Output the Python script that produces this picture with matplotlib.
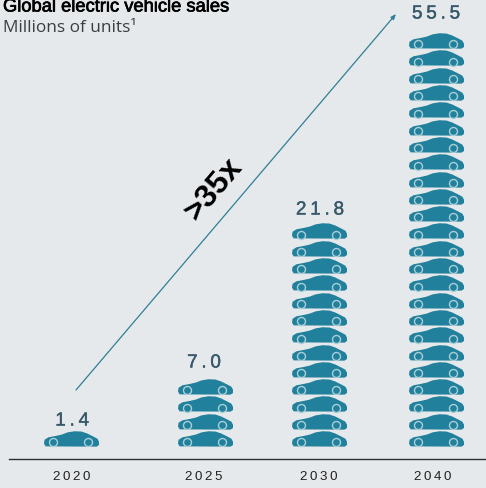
import matplotlib.pyplot as plt
import matplotlib.patheffects as pe
from matplotlib.path import Path

# values from the chart
years = ["2020", "2025", "2030", "2040"]
sales = [1.4, 7.0, 21.8, 55.5]
car_counts = [1, 4, 13, 24]

# layout, in pixels of the 486x488 picture
column_x = [71, 205, 319, 436]
label_x = [72, 204, 319, 433]
value_x = [72, 204, 320, 436]
value_y = [421, 363, 210, 14]
bottom_car_y = 439
car_step = 17.3
car_width = 55

BG = "#e6e9eb"
TEAL = "#21809b"
RING = "#a9cfd8"
VALUE_COLOR = "#37596a"

plt.rcParams["font.family"] = ["Liberation Sans", "DejaVu Sans"]


def spaced(text):
    return "\u2009".join(text)


def car_marker():
    # body outline, x runs -1..1 so markersize gives the car width
    outline = [
        (-0.94, -0.25), (-1.0, -0.15), (-0.98, -0.01), (-0.84, 0.08),
        (-0.57, 0.13), (-0.35, 0.18), (-0.14, 0.26), (0.11, 0.30),
        (0.36, 0.29), (0.57, 0.22), (0.79, 0.11), (0.94, 0.03),
        (1.0, -0.08), (1.0, -0.20), (0.91, -0.26), (-0.94, -0.25),
    ]
    codes = [Path.MOVETO] + [Path.LINETO] * (len(outline) - 2) + [Path.CLOSEPOLY]
    return Path(outline, codes)


fig = plt.figure(figsize=(4.86, 4.88), dpi=100, facecolor=BG)
ax = fig.add_axes([0, 0, 1, 1])
ax.set_xlim(0, 486)
ax.set_ylim(488, 0)
ax.axis("off")

px = 72 / fig.dpi
car = car_marker()

for i, count in enumerate(car_counts):
    xs = [column_x[i]] * count
    ys = [bottom_car_y - n * car_step for n in range(count)]
    ax.plot(xs, ys, ls="none", marker=car, ms=car_width * px, mfc=TEAL, mec="none")
    half = car_width / 2
    for offset in (-0.667, 0.605):
        ax.plot([x + offset * half for x in xs], [y + 3.3 for y in ys], ls="none",
                marker="o", ms=8.0 * px, mfc=TEAL, mec=RING, mew=1.0)
    ax.text(label_x[i], 477, spaced(years[i]), ha="center", va="center",
            fontsize=9.6, color="#222222")
    value = ax.text(value_x[i], value_y[i], spaced(f"{sales[i]:.1f}"),
                    ha="center", va="center", fontsize=13.6, color=VALUE_COLOR)
    value.set_path_effects([pe.withStroke(linewidth=0.3, foreground=VALUE_COLOR)])

ax.plot([9, 486], [459, 459], color="#2b2f33", lw=1.0)

ax.annotate("", xy=(396, 14), xytext=(76, 390),
            arrowprops=dict(arrowstyle="-|>,head_length=0.3,head_width=0.12",
                            color="#2f7f96", lw=0.9, shrinkA=0, shrinkB=0))
ax.text(214, 189, ">35x", rotation=49.6, rotation_mode="anchor", ha="center", va="center",
        fontsize=23, fontweight="bold", color="black")

# the title sits against the top edge and loses its cap tops, as in the original
title = ax.text(3, 7, "Global electric vehicle sales", ha="left", va="center",
                fontsize=13.2, color="black")
title.set_path_effects([pe.withStroke(linewidth=0.5, foreground="black")])
ax.text(3, 28, "Millions of units\u00b9", ha="left", va="center",
        fontsize=12.4, color="#3a3f44", family=["Open Sans", "DejaVu Sans"])

fig.savefig("out.png", dpi=100, facecolor=BG)
